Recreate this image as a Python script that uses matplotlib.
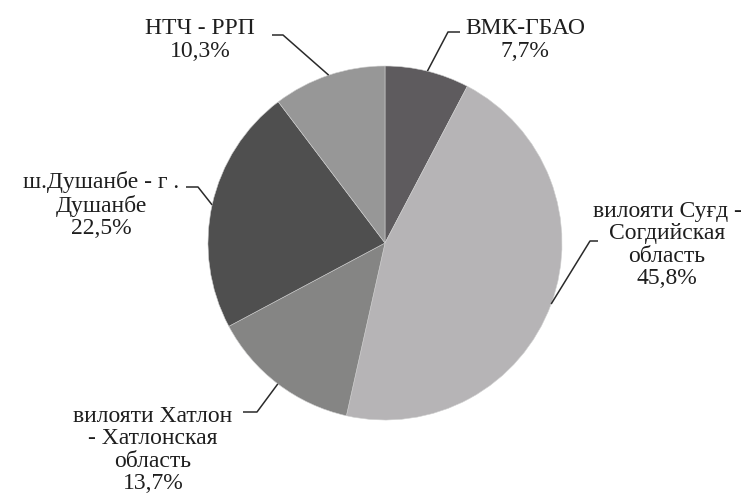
import numpy as np
import matplotlib.pyplot as plt

W, H = 753, 497

names = ['ВМК-ГБАО',
         'вилояти Суғд -\nСогдийская\nобласть',
         'вилояти Хатлон\n- Хатлонская\nобласть',
         'ш.Душанбе - г .\nДушанбе',
         'НТЧ - РРП']
shares = [7.7, 45.8, 13.7, 22.5, 10.3]
pct_labels = ['7,7%', '45,8%', '13,7%', '22,5%', '10,3%']
colors = ['#5e5b5e', '#b6b4b6', '#858584', '#4f4f4f', '#979797']

# label block centres and leader stub (pixels, y down)
text_pos = [(525, 40), (667, 245), (153, 450), (101, 205), (200, 40)]
stubs = [((460, 32), (448, 32)),
         ((598, 241), (590, 241)),
         ((243, 412), (257, 412)),
         ((186, 187), (198, 187)),
         ((272, 35), (283, 35))]

plt.rcParams['font.family'] = ['Liberation Serif', 'DejaVu Serif']

fig = plt.figure(figsize=(W / 100, H / 100), dpi=100)
ax = fig.add_axes([0, 0, 1, 1])

cx, cy, r = 385, H - 243, 177
wedges, _ = ax.pie(shares, colors=colors, startangle=90, counterclock=False,
                   center=(cx, cy), radius=r,
                   wedgeprops={'edgecolor': '#cfcfcf', 'linewidth': 0.4})

for w, name, pct, (tx, ty), (s0, s1) in zip(wedges, names, pct_labels,
                                            text_pos, stubs):
    ang = np.deg2rad((w.theta1 + w.theta2) / 2)
    px = cx + r * np.cos(ang)
    py = cy + r * np.sin(ang)
    ax.plot([s0[0], s1[0], px], [H - s0[1], H - s1[1], py],
            color='#2a2a2a', lw=1.1, solid_capstyle='butt')
    ax.text(tx, H - ty, name + '\n' + pct, ha='center', va='center',
            fontsize=17, color='#1e1e1e', linespacing=1.1,
            multialignment='center')

ax.set_xlim(0, W)
ax.set_ylim(0, H)
ax.set_aspect('equal')
ax.axis('off')

plt.savefig('out.png', dpi=100)
plt.close()
